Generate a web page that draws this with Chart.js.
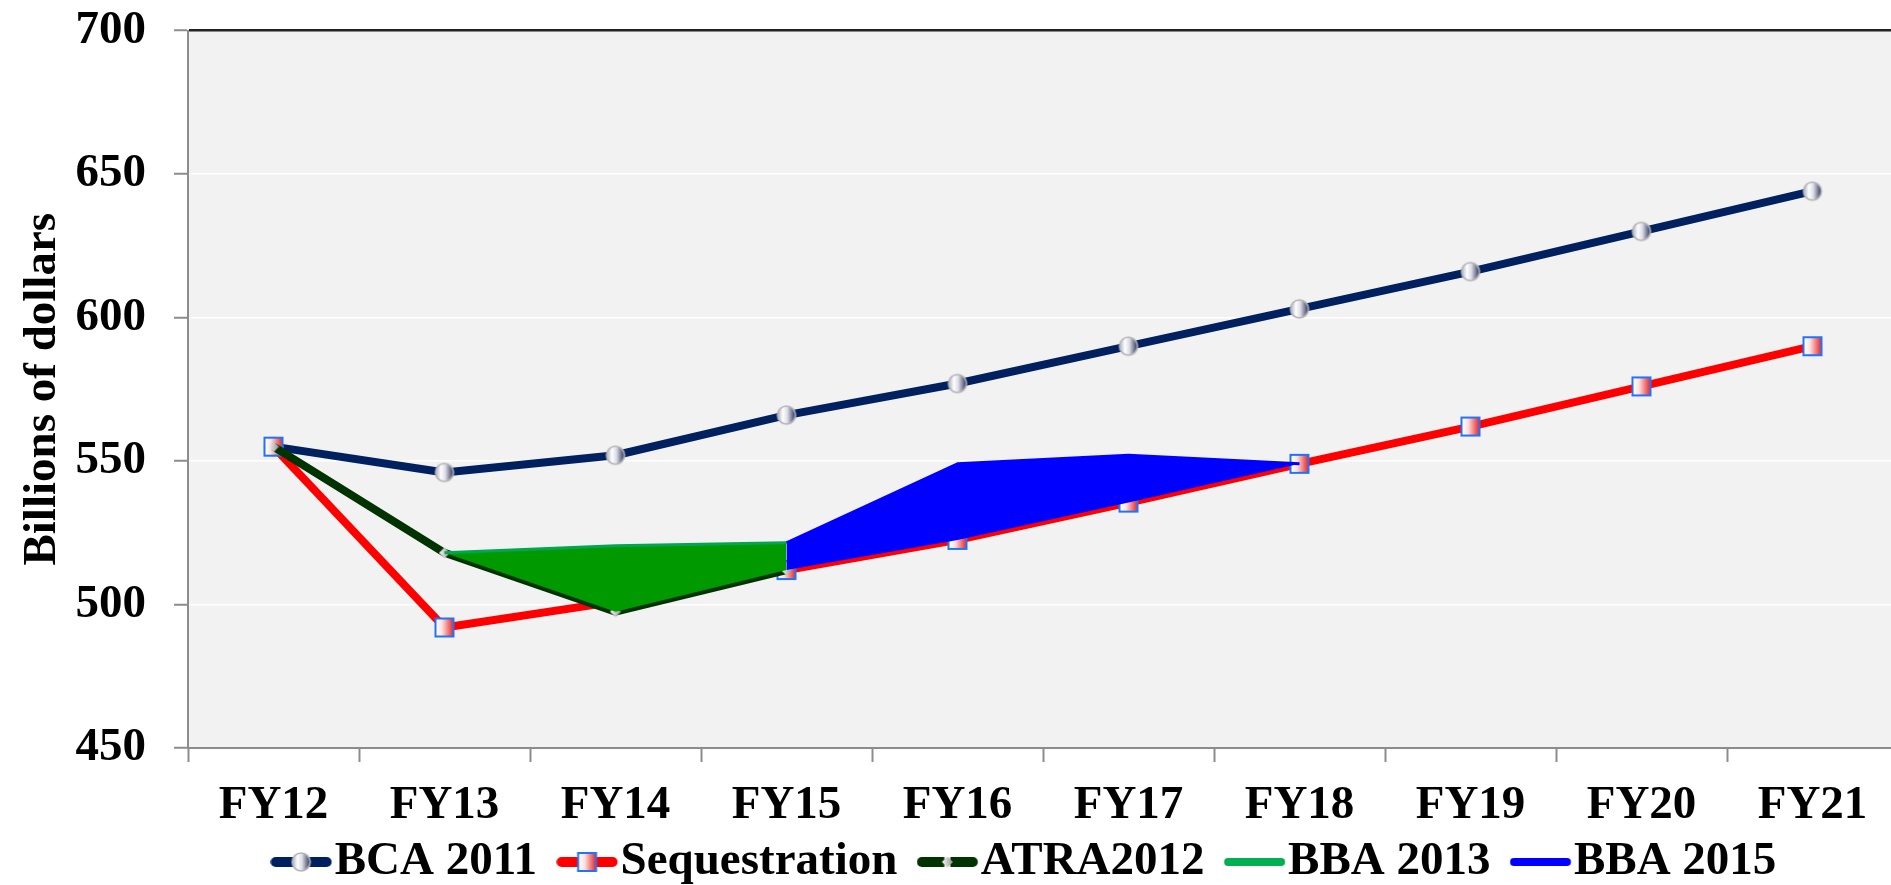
<!DOCTYPE html>
<html>
<head>
<meta charset="utf-8">
<script src="https://cdn.jsdelivr.net/npm/chart.js@4.4.1/dist/chart.umd.min.js"></script>
<style>
html,body{margin:0;padding:0;background:#ffffff;overflow:hidden;}
canvas{display:block;}
</style>
</head>
<body>
<canvas id="c" width="1898" height="885"></canvas>
<script>
// ---- data ----
const categories = ['FY12','FY13','FY14','FY15','FY16','FY17','FY18','FY19','FY20','FY21'];
const bca2011 = [555, 546, 552, 566, 577, 590, 603, 616, 630, 644];
const sequestration = [555, 492, 501, 512, 522.5, 535.5, 549, 562, 576, 590];
const atra2012 = [555, 518, 497.5, 512, null, null, null, null, null, null];
const bba2013 = [null, 518, 520.5, 521.5, null, null, null, null, null, null];
const bba2015 = [null, null, null, 521.5, 549, 552, 549, null, null, null];
const seriesNames = ['BCA 2011', 'Sequestration', 'ATRA2012', 'BBA 2013', 'BBA 2015'];
const yMin = 450, yMax = 700, yStep = 50;
const yTitle = 'Billions of dollars';

// ---- styling helpers ----
const FONT = {family: '"Liberation Serif", "Times New Roman", serif', size: 47, weight: 'bold'};

function makeCanvas(w, h, draw) {
  const c = document.createElement('canvas');
  c.width = w; c.height = h;
  draw(c.getContext('2d'), w, h);
  return c;
}
function drawCircle(ctx, cx, cy) {
  const g = ctx.createLinearGradient(cx - 9, 0, cx + 9, 0);
  g.addColorStop(0, '#a9acbd');
  g.addColorStop(0.3, '#ffffff');
  g.addColorStop(0.55, '#dcdde6');
  g.addColorStop(1, '#2c3158');
  ctx.beginPath();
  ctx.arc(cx, cy, 9, 0, Math.PI * 2);
  ctx.fillStyle = g; ctx.fill();
  ctx.lineWidth = 1.6; ctx.strokeStyle = '#b4b4b4'; ctx.stroke();
}
function drawSquare(ctx, cx, cy) {
  const g = ctx.createLinearGradient(cx - 8, 0, cx + 8, 0);
  g.addColorStop(0, '#ffffff');
  g.addColorStop(0.35, '#fde0e0');
  g.addColorStop(1, '#e83434');
  ctx.fillStyle = g;
  ctx.fillRect(cx - 9, cy - 9, 18, 18);
  ctx.lineWidth = 2; ctx.strokeStyle = '#1f74fd';
  ctx.strokeRect(cx - 9, cy - 9, 18, 18);
}
function drawDiamond(ctx, cx, cy) {
  const g = ctx.createLinearGradient(cx - 5, 0, cx + 5, 0);
  g.addColorStop(0, '#f4f4f4');
  g.addColorStop(1, '#9a9a9a');
  ctx.beginPath();
  ctx.moveTo(cx, cy - 5.5); ctx.lineTo(cx + 5.5, cy); ctx.lineTo(cx, cy + 5.5); ctx.lineTo(cx - 5.5, cy);
  ctx.closePath();
  ctx.fillStyle = g; ctx.fill();
}
const circleImg = makeCanvas(22, 22, (c) => drawCircle(c, 11, 11));
const squareImg = makeCanvas(22, 22, (c) => drawSquare(c, 11, 11));
const diamondImg = makeCanvas(12, 12, (c) => drawDiamond(c, 6, 6));

function legendImg(color, width, marker) {
  return makeCanvas(80, 24, (c) => {
    c.lineCap = 'round';
    c.strokeStyle = color; c.lineWidth = width;
    c.beginPath(); c.moveTo(0.25 + width / 2, 12); c.lineTo(61.25 - width / 2, 12); c.stroke();
    if (marker) marker(c, 30.75, 12);
  });
}
const legendImgs = [
  legendImg('#002060', 10, drawCircle),
  legendImg('#ff0000', 10, drawSquare),
  legendImg('#003300', 10, (c, x, y) => { c.fillStyle = '#ffffff'; c.fillRect(x - 3, y - 6, 6, 12); drawDiamond(c, x, y); }),
  legendImg('#00b050', 8, null),
  legendImg('#0000ff', 8, null)
];

const bgPlugin = {
  id: 'plotBg',
  beforeDraw(chart) {
    const a = chart.chartArea, ctx = chart.ctx;
    ctx.save();
    ctx.fillStyle = '#f2f2f2';
    ctx.fillRect(a.left, a.top, a.right - a.left, a.bottom - a.top);
    ctx.restore();
  }
};

new Chart(document.getElementById('c'), {
  type: 'line',
  data: {
    labels: categories,
    datasets: [
      {label: seriesNames[0], data: bca2011, borderColor: '#002060', borderWidth: 8, pointStyle: circleImg, pointRadius: 10, fill: false, order: 4},
      {label: seriesNames[1], data: sequestration, borderColor: '#ff0000', borderWidth: 8, pointStyle: squareImg, pointRadius: 10, fill: false, order: 3},
      {label: seriesNames[2], data: atra2012, borderColor: '#003300', borderWidth: 8, pointStyle: diamondImg, pointRadius: 6, fill: false, order: 2},
      {label: seriesNames[3], data: bba2013, borderColor: '#00a650', backgroundColor: '#009900', borderWidth: 3, pointRadius: 0, fill: 2, order: 1},
      {label: seriesNames[4], data: bba2015, borderColor: '#0000ff', backgroundColor: '#0000ff', borderWidth: 3, pointRadius: 0, fill: 1, order: 0}
    ]
  },
  options: {
    responsive: false,
    animation: false,
    devicePixelRatio: 1,
    elements: {line: {tension: 0, borderJoinStyle: 'round'}},
    layout: {autoPadding: false, padding: {top: 30.5, right: 0, bottom: -10.5, left: 0}},
    scales: {
      x: {
        type: 'category',
        offset: true,
        grid: {offset: true, drawOnChartArea: false, drawTicks: true, tickLength: 14, tickWidth: 2, tickColor: '#8c8c8c'},
        border: {display: true, color: '#8c8c8c', width: 2},
        ticks: {font: FONT, color: '#000000', mirror: true, padding: -86.2, maxRotation: 0, autoSkip: false},
        afterFit: (s) => { s.height = 32; s.paddingLeft = 0; s.paddingRight = 0; }
      },
      y: {
        min: yMin, max: yMax,
        ticks: {stepSize: yStep, font: FONT, color: '#000000', padding: 28},
        grid: {
          color: (ctx) => ctx.tick && ctx.tick.value === yMax ? '#222222' : (ctx.tick && ctx.tick.value === yMin ? '#8c8c8c' : '#ffffff'),
          lineWidth: (ctx) => ctx.tick && ctx.tick.value === yMax ? 2.5 : 1.5,
          drawTicks: true, tickLength: 14, tickWidth: 2, tickColor: '#8c8c8c'
        },
        border: {display: true, color: '#8c8c8c', width: 2},
        title: {display: true, text: yTitle, font: FONT, color: '#000000', padding: {top: 15, bottom: 0}},
        afterFit: (s) => { s.width = 188; s.paddingTop = 0; s.paddingBottom = 0; }
      }
    },
    plugins: {
      tooltip: {enabled: false},
      legend: {
        position: 'bottom',
        fullSize: false,
        align: 'center',
        labels: {
          usePointStyle: true,
          pointStyleWidth: 1.5,
          padding: 58.5,
          font: FONT,
          color: '#000000',
          generateLabels: () => seriesNames.map((t, i) => ({
            text: t, pointStyle: legendImgs[i], fillStyle: 'rgba(0,0,0,0)', strokeStyle: 'rgba(0,0,0,0)',
            lineWidth: 0, hidden: false, datasetIndex: i, fontColor: '#000000'
          }))
        }
      }
    }
  },
  plugins: [bgPlugin]
});
</script>
</body>
</html>
